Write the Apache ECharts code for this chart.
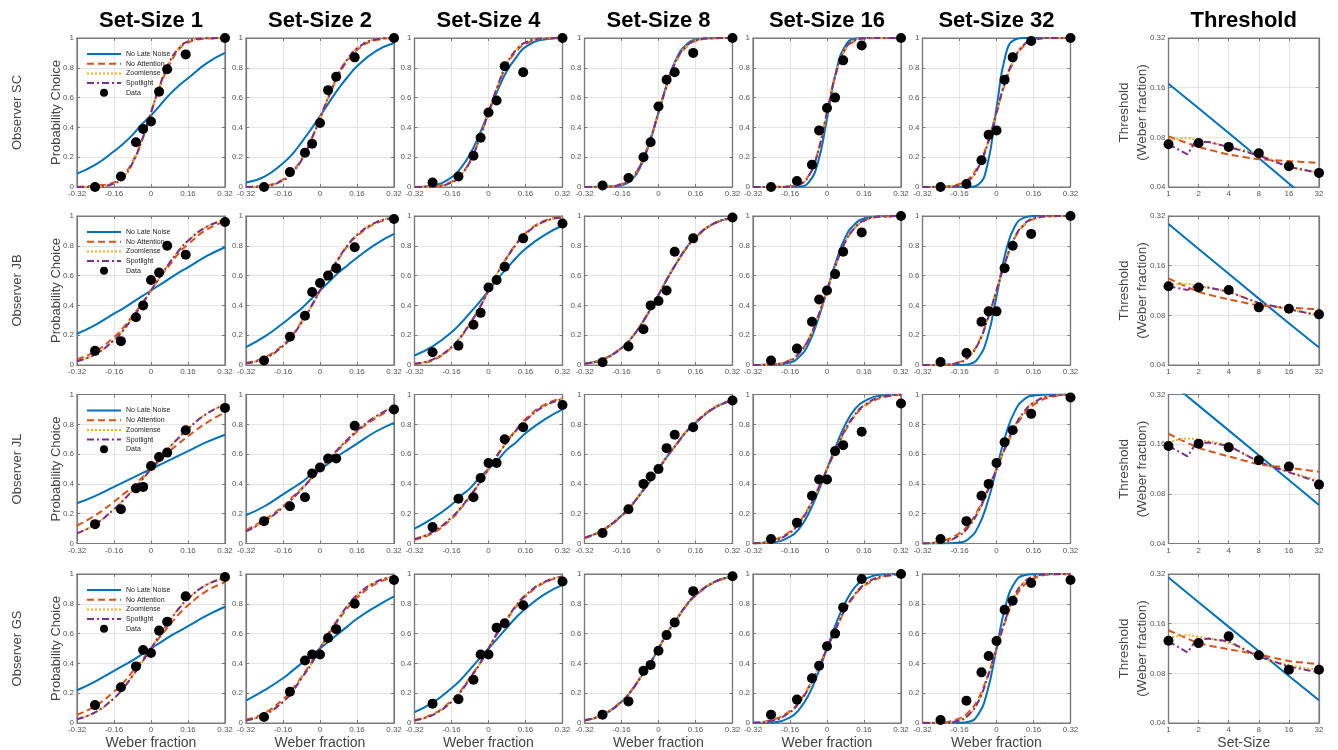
<!DOCTYPE html>
<html><head><meta charset="utf-8">
<script src="https://cdn.jsdelivr.net/npm/echarts@6/dist/echarts.min.js"></script>
<style>html,body{margin:0;padding:0;background:#fff}#c{width:1338px;height:750px}</style>
</head><body><div id="c"></div>
<script>
// ---------- DATA ----------
const setSizes = [1, 2, 4, 8, 16, 32];
const observersIds = ['SC', 'JB', 'JL', 'GS'];
const xTickLabels = ['-0.32', '-0.16', '0', '0.16', '0.32'];
// model curves sampled at these Weber fractions
const curveX = [-0.32, -0.24, -0.16, -0.12, -0.08, -0.04, 0, 0.04, 0.08, 0.12, 0.16, 0.24, 0.32];
// data points' Weber fractions
const dataX = [-0.242, -0.130, -0.065, -0.034, 0, 0.035, 0.07, 0.15, 0.32];

// ---- Observer SC (one row per set-size 1,2,4,8,16,32)
const SC_noLate = [
  [0.09,0.15,0.24,0.29,0.35,0.42,0.48,0.55,0.62,0.68,0.73,0.83,0.90],
  [0.03,0.07,0.16,0.22,0.30,0.385,0.475,0.57,0.66,0.74,0.81,0.91,0.966],
  [0.00,0.011,0.064,0.127,0.22,0.35,0.50,0.65,0.78,0.87,0.94,0.99,1.00],
  [0,0.001,0.012,0.045,0.13,0.29,0.50,0.71,0.87,0.955,0.988,1,1],
  [0,0,0,0.003,0.03,0.16,0.46,0.78,0.95,0.995,1,1,1],
  [0,0,0,0,0.014,0.145,0.53,0.89,0.99,1,1,1,1]];
const SC_noAtt = [
  [0,0.01,0.03,0.08,0.17,0.31,0.50,0.68,0.82,0.92,0.97,0.995,1],
  [0,0.008,0.05,0.105,0.185,0.31,0.46,0.61,0.75,0.85,0.92,0.985,1],
  [0,0.005,0.035,0.085,0.175,0.32,0.50,0.67,0.82,0.91,0.96,0.995,1],
  [0,0.002,0.02,0.06,0.145,0.30,0.50,0.70,0.855,0.94,0.98,0.998,1],
  [0,0.001,0.005,0.02,0.075,0.23,0.50,0.77,0.925,0.98,0.996,1,1],
  [0,0.002,0.02,0.055,0.14,0.29,0.50,0.71,0.86,0.95,0.985,1,1]];
const SC_zoom = [
  [0,0.002,0.023,0.067,0.16,0.31,0.50,0.69,0.84,0.93,0.977,0.998,1],
  [0,0.006,0.045,0.10,0.18,0.31,0.46,0.62,0.76,0.86,0.93,0.99,1],
  [0,0.003,0.03,0.08,0.17,0.32,0.50,0.68,0.83,0.92,0.97,0.997,1],
  [0,0.001,0.017,0.055,0.14,0.30,0.50,0.70,0.86,0.945,0.983,0.999,1],
  [0,0,0.002,0.015,0.07,0.23,0.50,0.77,0.93,0.985,0.998,1,1],
  [0,0,0.011,0.043,0.127,0.28,0.50,0.72,0.87,0.957,0.989,1,1]];
const SC_spot = [
  [0,0.002,0.023,0.067,0.16,0.31,0.50,0.69,0.84,0.93,0.977,0.998,1],
  [0,0.006,0.045,0.10,0.18,0.31,0.46,0.62,0.76,0.86,0.93,0.99,1],
  [0,0.003,0.03,0.08,0.17,0.32,0.50,0.68,0.83,0.92,0.97,0.997,1],
  [0,0.001,0.017,0.055,0.14,0.30,0.50,0.70,0.86,0.945,0.983,0.999,1],
  [0,0,0.002,0.015,0.07,0.23,0.50,0.77,0.93,0.985,0.998,1,1],
  [0,0,0.011,0.043,0.127,0.28,0.50,0.72,0.87,0.957,0.989,1,1]];
const SC_data = [
  [0.00,0.07,0.30,0.39,0.44,0.64,0.79,0.89,1.00],
  [0.00,0.10,0.23,0.29,0.43,0.65,0.74,0.87,1.00],
  [0.03,0.07,0.21,0.33,0.50,0.58,0.81,0.77,1.00],
  [0.01,0.06,0.20,0.30,0.54,0.72,0.77,0.90,1.00],
  [0.00,0.04,0.15,0.38,0.53,0.60,0.85,0.95,1.00],
  [0.00,0.02,0.18,0.35,0.38,0.72,0.87,0.98,1.00]];

// ---- Observer JB
const JB_noLate = [
  [0.21,0.27,0.345,0.38,0.42,0.46,0.5,0.54,0.58,0.62,0.655,0.73,0.79],
  [0.12,0.19,0.28,0.33,0.38,0.44,0.5,0.56,0.62,0.67,0.72,0.81,0.88],
  [0.064,0.127,0.22,0.28,0.35,0.42,0.5,0.58,0.65,0.72,0.78,0.87,0.936],
  [0.009,0.037,0.113,0.176,0.26,0.36,0.47,0.585,0.69,0.785,0.858,0.95,0.986],
  [0,0.001,0.017,0.055,0.14,0.30,0.5,0.70,0.86,0.945,0.983,0.999,1],
  [0,0,0,0.006,0.045,0.18,0.46,0.76,0.933,0.989,1,1,1]];
const JB_noAtt = [
  [0.038,0.092,0.187,0.25,0.33,0.41,0.5,0.59,0.67,0.75,0.81,0.908,0.962],
  [0.015,0.05,0.135,0.2,0.29,0.39,0.5,0.61,0.71,0.8,0.865,0.95,0.985],
  [0.007,0.033,0.115,0.185,0.275,0.38,0.5,0.62,0.725,0.815,0.885,0.967,0.993],
  [0.01,0.04,0.115,0.178,0.262,0.362,0.47,0.583,0.688,0.782,0.855,0.948,0.985],
  [0,0.004,0.032,0.082,0.172,0.32,0.5,0.68,0.828,0.918,0.968,0.996,1],
  [0,0.002,0.02,0.06,0.145,0.30,0.5,0.70,0.855,0.94,0.98,0.998,1]];
const JB_zoom = [
  [0.026,0.073,0.166,0.233,0.315,0.405,0.5,0.595,0.685,0.767,0.834,0.927,0.974],
  [0.011,0.044,0.127,0.195,0.284,0.386,0.5,0.614,0.716,0.805,0.873,0.956,0.989],
  [0.009,0.038,0.12,0.19,0.28,0.38,0.5,0.62,0.72,0.81,0.88,0.962,0.991],
  [0.009,0.037,0.113,0.176,0.26,0.36,0.47,0.585,0.69,0.785,0.858,0.95,0.986],
  [0,0.003,0.03,0.08,0.17,0.32,0.5,0.68,0.83,0.92,0.97,0.997,1],
  [0,0.001,0.017,0.055,0.14,0.30,0.5,0.70,0.86,0.945,0.983,0.999,1]];
const JB_spot = [
  [0.026,0.073,0.166,0.233,0.315,0.405,0.5,0.595,0.685,0.767,0.834,0.927,0.974],
  [0.011,0.044,0.127,0.195,0.284,0.386,0.5,0.614,0.716,0.805,0.873,0.956,0.989],
  [0.009,0.038,0.12,0.19,0.28,0.38,0.5,0.62,0.72,0.81,0.88,0.962,0.991],
  [0.009,0.037,0.113,0.176,0.26,0.36,0.47,0.585,0.69,0.785,0.858,0.95,0.986],
  [0,0.003,0.03,0.08,0.17,0.32,0.5,0.68,0.83,0.92,0.97,0.997,1],
  [0,0.001,0.017,0.055,0.14,0.30,0.5,0.70,0.86,0.945,0.983,0.999,1]];
const JB_data = [
  [0.095,0.16,0.32,0.40,0.57,0.62,0.80,0.74,0.96],
  [0.03,0.19,0.33,0.49,0.55,0.60,0.65,0.79,0.98],
  [0.085,0.13,0.27,0.35,0.52,0.57,0.66,0.85,0.95],
  [0.018,0.125,0.24,0.40,0.43,0.50,0.76,0.85,0.99],
  [0.03,0.11,0.29,0.44,0.50,0.61,0.76,0.89,1.00],
  [0.02,0.08,0.29,0.36,0.36,0.65,0.80,0.88,1.00]];

// ---- Observer JL
const JL_noLate = [
  [0.27,0.32,0.38,0.41,0.44,0.47,0.5,0.53,0.56,0.59,0.62,0.68,0.73],
  [0.19,0.25,0.33,0.37,0.41,0.46,0.5,0.54,0.59,0.63,0.67,0.75,0.81],
  [0.10,0.17,0.26,0.32,0.37,0.44,0.5,0.56,0.63,0.68,0.74,0.83,0.90],
  [0.038,0.092,0.187,0.25,0.33,0.41,0.5,0.59,0.67,0.75,0.81,0.908,0.962],
  [0,0.006,0.046,0.10,0.20,0.34,0.5,0.66,0.80,0.90,0.954,0.994,1],
  [0,0,0.007,0.032,0.11,0.27,0.5,0.73,0.89,0.968,0.993,1,1]];
const JL_noAtt = [
  [0.12,0.19,0.28,0.33,0.38,0.44,0.5,0.56,0.62,0.67,0.72,0.81,0.88],
  [0.09,0.16,0.25,0.31,0.37,0.435,0.5,0.565,0.63,0.69,0.75,0.84,0.91],
  [0.025,0.07,0.165,0.235,0.315,0.40,0.5,0.60,0.685,0.765,0.835,0.93,0.975],
  [0.035,0.088,0.183,0.247,0.328,0.41,0.5,0.59,0.672,0.753,0.817,0.912,0.965],
  [0.003,0.02,0.08,0.145,0.24,0.365,0.5,0.635,0.76,0.855,0.92,0.98,0.997],
  [0.001,0.015,0.07,0.13,0.225,0.355,0.5,0.645,0.775,0.87,0.93,0.985,0.999]];
const JL_zoom = [
  [0.068,0.13,0.23,0.29,0.355,0.425,0.5,0.575,0.645,0.71,0.77,0.87,0.932],
  [0.082,0.149,0.242,0.30,0.363,0.43,0.5,0.57,0.637,0.70,0.758,0.851,0.918],
  [0.03,0.079,0.174,0.24,0.32,0.405,0.5,0.595,0.68,0.76,0.826,0.921,0.97],
  [0.038,0.092,0.187,0.25,0.33,0.41,0.5,0.59,0.67,0.75,0.81,0.908,0.962],
  [0.002,0.015,0.073,0.138,0.233,0.36,0.5,0.64,0.767,0.862,0.927,0.985,0.998],
  [0,0.008,0.055,0.115,0.21,0.345,0.5,0.655,0.79,0.885,0.945,0.992,0.999]];
const JL_spot = [
  [0.068,0.13,0.23,0.29,0.355,0.425,0.5,0.575,0.645,0.71,0.77,0.87,0.932],
  [0.082,0.149,0.242,0.30,0.363,0.43,0.5,0.57,0.637,0.70,0.758,0.851,0.918],
  [0.03,0.079,0.174,0.24,0.32,0.405,0.5,0.595,0.68,0.76,0.826,0.921,0.97],
  [0.038,0.092,0.187,0.25,0.33,0.41,0.5,0.59,0.67,0.75,0.81,0.908,0.962],
  [0.002,0.015,0.073,0.138,0.233,0.36,0.5,0.64,0.767,0.862,0.927,0.985,0.998],
  [0,0.008,0.055,0.115,0.21,0.345,0.5,0.655,0.79,0.885,0.945,0.992,0.999]];
const JL_data = [
  [0.13,0.23,0.37,0.38,0.52,0.58,0.61,0.76,0.91],
  [0.15,0.25,0.31,0.47,0.51,0.57,0.57,0.79,0.90],
  [0.11,0.30,0.31,0.44,0.54,0.54,0.70,0.78,0.93],
  [0.07,0.23,0.40,0.45,0.50,0.64,0.73,0.78,0.96],
  [0.03,0.14,0.32,0.43,0.43,0.62,0.66,0.75,0.94],
  [0.03,0.15,0.32,0.40,0.54,0.68,0.76,0.87,0.98]];

// ---- Observer GS
const GS_noLate = [
  [0.22,0.28,0.35,0.385,0.42,0.46,0.5,0.54,0.58,0.615,0.65,0.72,0.78],
  [0.15,0.22,0.30,0.35,0.40,0.45,0.5,0.55,0.60,0.65,0.70,0.78,0.85],
  [0.073,0.138,0.233,0.29,0.36,0.43,0.5,0.57,0.64,0.71,0.767,0.862,0.927],
  [0.017,0.055,0.142,0.21,0.30,0.39,0.5,0.61,0.70,0.79,0.858,0.945,0.983],
  [0,0.004,0.038,0.092,0.187,0.33,0.5,0.67,0.81,0.91,0.962,0.996,1],
  [0,0,0.001,0.008,0.055,0.21,0.5,0.79,0.945,0.992,0.999,1,1]];
const GS_noAtt = [
  [0.055,0.115,0.21,0.27,0.345,0.42,0.5,0.58,0.655,0.73,0.79,0.885,0.945],
  [0.023,0.067,0.159,0.227,0.309,0.401,0.5,0.599,0.691,0.773,0.841,0.933,0.977],
  [0.02,0.06,0.15,0.218,0.305,0.395,0.5,0.605,0.695,0.782,0.85,0.94,0.98],
  [0.02,0.058,0.146,0.214,0.302,0.392,0.5,0.608,0.698,0.786,0.854,0.942,0.98],
  [0.003,0.02,0.08,0.145,0.24,0.365,0.5,0.635,0.76,0.855,0.92,0.98,0.997],
  [0.001,0.004,0.03,0.075,0.16,0.31,0.5,0.69,0.84,0.925,0.97,0.996,0.999]];
const GS_zoom = [
  [0.026,0.073,0.166,0.233,0.315,0.405,0.5,0.595,0.685,0.767,0.834,0.927,0.974],
  [0.017,0.055,0.142,0.21,0.30,0.39,0.5,0.61,0.70,0.79,0.858,0.945,0.983],
  [0.017,0.055,0.142,0.21,0.30,0.39,0.5,0.61,0.70,0.79,0.858,0.945,0.983],
  [0.017,0.055,0.142,0.21,0.30,0.39,0.5,0.61,0.70,0.79,0.858,0.945,0.983],
  [0.002,0.015,0.073,0.138,0.233,0.36,0.5,0.64,0.767,0.862,0.927,0.985,0.998],
  [0,0.001,0.017,0.055,0.14,0.30,0.5,0.70,0.86,0.945,0.983,0.999,1]];
const GS_spot = [
  [0.026,0.073,0.166,0.233,0.315,0.405,0.5,0.595,0.685,0.767,0.834,0.927,0.974],
  [0.017,0.055,0.142,0.21,0.30,0.39,0.5,0.61,0.70,0.79,0.858,0.945,0.983],
  [0.017,0.055,0.142,0.21,0.30,0.39,0.5,0.61,0.70,0.79,0.858,0.945,0.983],
  [0.017,0.055,0.142,0.21,0.30,0.39,0.5,0.61,0.70,0.79,0.858,0.945,0.983],
  [0.002,0.015,0.073,0.138,0.233,0.36,0.5,0.64,0.767,0.862,0.927,0.985,0.998],
  [0,0.001,0.017,0.055,0.14,0.30,0.5,0.70,0.86,0.945,0.983,0.999,1]];
const GS_data = [
  [0.12,0.24,0.38,0.49,0.47,0.62,0.68,0.85,0.98],
  [0.04,0.21,0.42,0.46,0.46,0.57,0.63,0.80,0.96],
  [0.13,0.16,0.29,0.46,0.46,0.64,0.67,0.79,0.95],
  [0.056,0.145,0.35,0.39,0.485,0.59,0.675,0.885,0.985],
  [0.056,0.157,0.30,0.385,0.515,0.60,0.776,0.966,1.00],
  [0.02,0.15,0.34,0.45,0.55,0.76,0.82,0.94,0.96]];

// ---- Threshold panels (Weber fraction vs set-size)
const thrZoomX = [1, 1.5, 2, 4, 8, 16, 32];
const thrSpotX = [1, 1.55, 1.85, 2.5, 4, 8, 16, 32];
const thrTicksY = [0.04, 0.08, 0.16, 0.32];
const SC_thrData   = [0.0726, 0.074, 0.070, 0.064, 0.0535, 0.0487];
const SC_thrNoLate = [0.169, 0.12, 0.085, 0.06, 0.042, 0.030];
const SC_thrNoAtt  = [0.081, 0.070, 0.063, 0.059, 0.0574, 0.056];
const SC_thrZoom   = [0.077, 0.079, 0.077, 0.070, 0.063, 0.053, 0.049];
const SC_thrSpot   = [0.0726, 0.063, 0.075, 0.075, 0.070, 0.062, 0.053, 0.0487];
const JB_thrData   = [0.120, 0.118, 0.114, 0.0894, 0.0877, 0.0811];
const JB_thrNoLate = [0.286, 0.202, 0.143, 0.101, 0.0716, 0.051];
const JB_thrNoAtt  = [0.134, 0.111, 0.100, 0.092, 0.089, 0.087];
const JB_thrZoom   = [0.123, 0.124, 0.12, 0.111, 0.095, 0.087, 0.080];
const JB_thrSpot   = [0.12, 0.114, 0.12, 0.118, 0.111, 0.095, 0.087, 0.080];
const JL_thrData   = [0.156, 0.161, 0.153, 0.128, 0.117, 0.091];
const JL_thrNoLate = [0.387, 0.274, 0.194, 0.137, 0.097, 0.0685];
const JL_thrNoAtt  = [0.185, 0.152, 0.135, 0.121, 0.115, 0.109];
const JL_thrZoom   = [0.163, 0.173, 0.17, 0.156, 0.125, 0.109, 0.096];
const JL_thrSpot   = [0.156, 0.135, 0.159, 0.164, 0.156, 0.125, 0.108, 0.094];
const GS_thrData   = [0.126, 0.122, 0.134, 0.103, 0.084, 0.084];
const GS_thrNoLate = [0.305, 0.216, 0.153, 0.109, 0.077, 0.055];
const GS_thrNoAtt  = [0.146, 0.122, 0.112, 0.104, 0.095, 0.091];
const GS_thrZoom   = [0.131, 0.136, 0.133, 0.122, 0.101, 0.090, 0.084];
const GS_thrSpot   = [0.125, 0.107, 0.125, 0.13, 0.125, 0.101, 0.088, 0.081];

// ---------- BUILD ----------
const OBS = {
  SC: {noLate: SC_noLate, noAtt: SC_noAtt, zoom: SC_zoom, spot: SC_spot, data: SC_data,
       tData: SC_thrData, tNoLate: SC_thrNoLate, tNoAtt: SC_thrNoAtt, tZoom: SC_thrZoom, tSpot: SC_thrSpot},
  JB: {noLate: JB_noLate, noAtt: JB_noAtt, zoom: JB_zoom, spot: JB_spot, data: JB_data,
       tData: JB_thrData, tNoLate: JB_thrNoLate, tNoAtt: JB_thrNoAtt, tZoom: JB_thrZoom, tSpot: JB_thrSpot},
  JL: {noLate: JL_noLate, noAtt: JL_noAtt, zoom: JL_zoom, spot: JL_spot, data: JL_data,
       tData: JL_thrData, tNoLate: JL_thrNoLate, tNoAtt: JL_thrNoAtt, tZoom: JL_thrZoom, tSpot: JL_thrSpot},
  GS: {noLate: GS_noLate, noAtt: GS_noAtt, zoom: GS_zoom, spot: GS_spot, data: GS_data,
       tData: GS_thrData, tNoLate: GS_thrNoLate, tNoAtt: GS_thrNoAtt, tZoom: GS_thrZoom, tSpot: GS_thrSpot}
};

const FONT = "'Liberation Sans', Arial, Helvetica, sans-serif";
const COL = {noLate: '#0072BD', noAtt: '#D95319', zoom: '#EDB120', spot: '#7E2F8E', data: '#000'};
const NAMES = ['No Late Noise', 'No Attention', 'Zoomlense', 'Spotlight', 'Data'];
const colLeft = [77, 246, 414.5, 584.5, 753, 922.5], colW = 148;
const thrLeft = 1168.5, thrW = 150.5;
const rowTop = [38, 216, 394.5, 574], rowH = 149;
const AX = '#7a7a7a';

const grids = [], xAxes = [], yAxes = [], series = [], legends = [], graphic = [];

function baseAxis(gi) {
  return {
    gridIndex: gi, type: 'value',
    axisLine: {show: true, onZero: false, lineStyle: {color: AX, width: 1.2}},
    axisTick: {show: true, inside: true, length: 3, lineStyle: {color: AX, width: 1}},
    splitLine: {show: true, lineStyle: {color: '#e4e4e4', width: 1}},
    axisLabel: {color: '#555', fontSize: 8, fontFamily: FONT, margin: 3, hideOverlap: false,
                showMinLabel: true, showMaxLabel: true}
  };
}
function mirror(ax, pos) {
  return Object.assign({}, ax, {position: pos, axisLabel: {show: false}, splitLine: {show: false}});
}
function lineSeries(name, gi, xs, ys, color, type, z, smooth) {
  return {
    type: 'line', name, xAxisIndex: gi, yAxisIndex: gi,
    data: xs.map((x, i) => [x, ys[i]]),
    symbol: 'none', showSymbol: false, smooth: smooth,
    lineStyle: {color, width: 2, type, cap: 'butt'}, itemStyle: {color},
    z, silent: true, animation: false, clip: true
  };
}
const DASH = {noLate: 'solid', noAtt: [7, 4], zoom: [2, 2], spot: [7, 3, 2, 3]};
const xMirrors = [], yMirrors = [];

observersIds.forEach((ob, r) => {
  const O = OBS[ob];
  for (let c = 0; c < 6; c++) {
    const gi = grids.length;
    grids.push({left: colLeft[c], top: rowTop[r], width: colW, height: rowH, show: true,
                borderColor: AX, borderWidth: 1.2, backgroundColor: '#fff', outerBoundsMode: 'none'});
    const xa = Object.assign(baseAxis(gi), {min: -0.32, max: 0.32, interval: 0.16,
      axisLabel: Object.assign(baseAxis(gi).axisLabel, {formatter: v => xTickLabels[Math.round((v + 0.32) / 0.16)]})});
    const ya = Object.assign(baseAxis(gi), {min: 0, max: 1, interval: 0.2,
      axisLabel: Object.assign(baseAxis(gi).axisLabel, {formatter: v => String(+v.toFixed(1))})});
    xAxes.push(xa); yAxes.push(ya);
    xMirrors.push(mirror(xa, 'top')); yMirrors.push(mirror(ya, 'right'));
    series.push(lineSeries(NAMES[0], gi, curveX, O.noLate[c], COL.noLate, DASH.noLate, 2, 0.5));
    series.push(lineSeries(NAMES[1], gi, curveX, O.noAtt[c], COL.noAtt, DASH.noAtt, 3, 0.5));
    series.push(lineSeries(NAMES[2], gi, curveX, O.zoom[c], COL.zoom, DASH.zoom, 4, 0.5));
    series.push(lineSeries(NAMES[3], gi, curveX, O.spot[c], COL.spot, DASH.spot, 5, 0.5));
    series.push({type: 'scatter', name: NAMES[4], xAxisIndex: gi, yAxisIndex: gi,
      data: dataX.map((x, i) => [x, O.data[c][i]]), symbol: 'circle', symbolSize: 10,
      itemStyle: {color: '#000', opacity: 1}, z: 6, silent: true, animation: false, clip: false});
  }
  // threshold panel (log2 scales)
  const gi = grids.length;
  grids.push({left: thrLeft, top: rowTop[r], width: thrW, height: rowH, show: true,
              borderColor: AX, borderWidth: 1.2, backgroundColor: '#fff', outerBoundsMode: 'none'});
  const txa = Object.assign(baseAxis(gi), {min: 0, max: 5, interval: 1,
    axisLabel: Object.assign(baseAxis(gi).axisLabel, {formatter: v => String(setSizes[Math.round(v)])})});
  const tya = Object.assign(baseAxis(gi), {min: 0, max: 3, interval: 1,
    axisLabel: Object.assign(baseAxis(gi).axisLabel, {formatter: v => thrTicksY[Math.round(v)].toFixed(2)})});
  xAxes.push(txa); yAxes.push(tya);
  xMirrors.push(mirror(txa, 'top')); yMirrors.push(mirror(tya, 'right'));
  const lx = a => a.map(v => Math.log2(v));
  const ly = a => a.map(v => Math.log2(v / thrTicksY[0]));
  series.push(lineSeries(NAMES[0], gi, lx(setSizes), ly(O.tNoLate), COL.noLate, DASH.noLate, 2, false));
  series.push(lineSeries(NAMES[1], gi, lx(setSizes), ly(O.tNoAtt), COL.noAtt, DASH.noAtt, 3, 0.2));
  series.push(lineSeries(NAMES[2], gi, lx(thrZoomX), ly(O.tZoom), COL.zoom, DASH.zoom, 4, 0.4));
  series.push(lineSeries(NAMES[3], gi, lx(thrSpotX), ly(O.tSpot), COL.spot, DASH.spot, 5, false));
  const tx = lx(setSizes), ty = ly(O.tData);
  series.push({type: 'scatter', name: NAMES[4], xAxisIndex: gi, yAxisIndex: gi,
    data: tx.map((x, i) => [x, ty[i]]), symbol: 'circle', symbolSize: 10,
    itemStyle: {color: '#000', opacity: 1}, z: 6, silent: true, animation: false, clip: false});

  // legend inside first panel of row
  legends.push({show: true, orient: 'vertical', left: 86, top: rowTop[r] + 12, padding: 0,
    itemWidth: 34, itemHeight: 8, itemGap: 1.7, selectedMode: false,
    textStyle: {fontSize: 7, color: '#222', fontFamily: FONT, lineHeight: 8},
    data: NAMES.map((n, i) => i < 4 ? {name: n, itemStyle: {opacity: 0, borderWidth: 0}} :
                                      {name: n, itemStyle: {color: '#000', opacity: 1}})});

  // row labels
  const cy = rowTop[r] + rowH / 2;
  graphic.push({type: 'text', x: 17, y: cy, rotation: Math.PI / 2,
    style: {text: 'Observer ' + ob, font: '13px ' + FONT, fill: '#444', textAlign: 'center', textVerticalAlign: 'middle'}});
  graphic.push({type: 'text', x: 56, y: cy, rotation: Math.PI / 2,
    style: {text: 'Probability Choice', font: '13px ' + FONT, fill: '#444', textAlign: 'center', textVerticalAlign: 'middle'}});
  graphic.push({type: 'text', x: 1124, y: cy, rotation: Math.PI / 2,
    style: {text: 'Threshold', font: '13.5px ' + FONT, fill: '#444', textAlign: 'center', textVerticalAlign: 'middle'}});
  graphic.push({type: 'text', x: 1142, y: cy, rotation: Math.PI / 2,
    style: {text: '(Weber fraction)', font: '13.5px ' + FONT, fill: '#444', textAlign: 'center', textVerticalAlign: 'middle'}});
});

// column titles and bottom labels
setSizes.forEach((s, c) => {
  graphic.push({type: 'text', x: colLeft[c] + colW / 2, y: 21,
    style: {text: 'Set-Size ' + s, font: 'bold 22px ' + FONT, fill: '#000', textAlign: 'center', textVerticalAlign: 'middle'}});
  graphic.push({type: 'text', x: colLeft[c] + colW / 2, y: 743,
    style: {text: 'Weber fraction', font: '14px ' + FONT, fill: '#444', textAlign: 'center', textVerticalAlign: 'middle'}});
});
graphic.push({type: 'text', x: thrLeft + thrW / 2, y: 21,
  style: {text: 'Threshold', font: 'bold 22px ' + FONT, fill: '#000', textAlign: 'center', textVerticalAlign: 'middle'}});
graphic.push({type: 'text', x: thrLeft + thrW / 2, y: 743,
  style: {text: 'Set-Size', font: '14px ' + FONT, fill: '#444', textAlign: 'center', textVerticalAlign: 'middle'}});

const chart = echarts.init(document.getElementById('c'), null, {renderer: 'canvas'});
chart.setOption({
  backgroundColor: '#fff', animation: false,
  grid: grids, xAxis: xAxes.concat(xMirrors), yAxis: yAxes.concat(yMirrors), series, legend: legends, graphic,
  tooltip: {show: false}
});
</script></body></html>
